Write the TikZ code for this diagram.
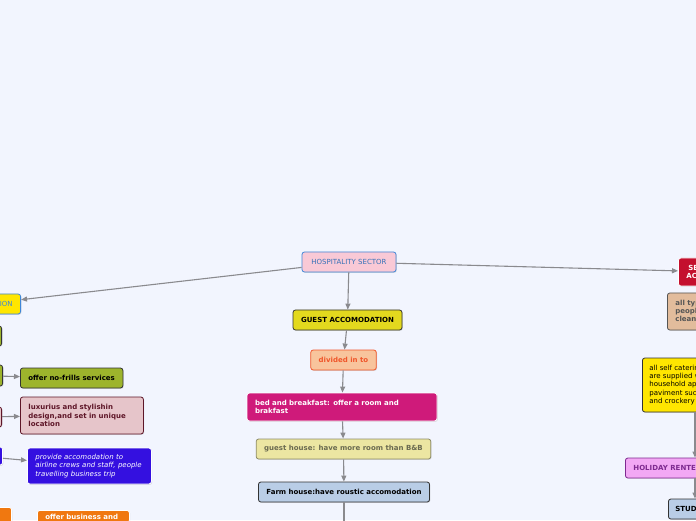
\documentclass[tikz,border=0pt]{standalone}
\usepackage{fontspec}
\setmainfont{DejaVu Sans}
\usepackage{xcolor}
\usetikzlibrary{arrows.meta,calc,shadows}
\definecolor{MapBg}{HTML}{F2F5FE}
\definecolor{LinkGray}{HTML}{8A8A8E}
\definecolor{EdgeDark}{HTML}{333333}
\definecolor{HospPink}{HTML}{F9C9D6}
\definecolor{HospBlue}{HTML}{3F86D8}
\definecolor{GuestYellow}{HTML}{E3D91E}
\definecolor{DivPeach}{HTML}{F8C49C}
\definecolor{DivRed}{HTML}{F0562A}
\definecolor{BnbMagenta}{HTML}{CF1A7A}
\definecolor{GhKhaki}{HTML}{ECE6A2}
\definecolor{GhLine}{HTML}{8E8C68}
\definecolor{GhText}{HTML}{6A6A50}
\definecolor{FarmBlue}{HTML}{B9CDE6}
\definecolor{AccomYellow}{HTML}{FFE600}
\definecolor{OliveGreen}{HTML}{9DB42C}
\definecolor{LuxRose}{HTML}{E6C5CA}
\definecolor{LuxMaroon}{HTML}{5E1628}
\definecolor{CrewViolet}{HTML}{3410E0}
\definecolor{BizOrange}{HTML}{F07810}
\definecolor{SelfRed}{HTML}{C4102E}
\definecolor{TanFill}{HTML}{E2BC9C}
\definecolor{TanText}{HTML}{555555}
\definecolor{HolidayPink}{HTML}{F2A8F4}
\definecolor{HolidayPurple}{HTML}{7E2A90}
\newcommand{\mapfont}{\fontsize{7}{8.3}\selectfont}
\tikzset{
  topic/.style={rounded corners=2.5pt,line width=0.8pt,inner xsep=8pt,inner ysep=3pt,minimum height=20pt,font=\mapfont\bfseries,
    drop shadow={shadow xshift=0.8pt,shadow yshift=-0.8pt,opacity=0.25}},
  link/.style={draw=LinkGray,line width=1.1pt,-{Triangle[length=6pt,width=5pt]}},
}

\begin{document}
\begin{tikzpicture}[x=1pt,y=1pt]
  \fill[MapBg] (0,0) rectangle (696,520);
  \useasboundingbox (0,0) rectangle (696,520);
  \clip (0,0) rectangle (696,520);
  % centre column
  \node[topic,draw=HospBlue,fill=HospPink,text=HospBlue!85!black,minimum width=94pt,font=\mapfont] (hosp) at (349,258) {HOSPITALITY SECTOR};
  \node[topic,draw=EdgeDark,fill=GuestYellow,minimum width=109pt] (guest) at (347.5,200) {GUEST ACCOMODATION};
  \node[topic,draw=DivRed,fill=DivPeach,text=DivRed,minimum width=65pt] (divided) at (343.5,160) {divided in to};
  \node[topic,draw=white,fill=BnbMagenta,text=white,text width=174pt,align=left,minimum height=28pt] (bnb) at (342,113) {bed and breakfast: offer a room and\\brakfast};
  \node[topic,draw=GhLine,fill=GhKhaki,text=GhText,minimum width=173pt] (ghouse) at (343.5,71) {guest house: have more room than B\&B};
  \node[topic,draw=EdgeDark,fill=FarmBlue,minimum width=170pt] (farm) at (344,28) {Farm house:have roustic accomodation};
  \coordinate (farmnext) at (344,-20);
  % left branch
  \node[topic,anchor=east,draw=HospBlue,fill=AccomYellow,text=HospBlue,font=\mapfont] (accom) at (21,216) {ACCOMODATION};
  \node[topic,anchor=east,draw=EdgeDark,fill=OliveGreen,minimum width=50pt] (oliveA) at (2,184) {};
  \node[topic,anchor=east,draw=EdgeDark,fill=OliveGreen,minimum width=50pt,minimum height=21pt] (oliveB) at (3,144.5) {};
  \node[topic,anchor=west,draw=EdgeDark,fill=OliveGreen,minimum width=102pt] (nofrills) at (20,142) {offer no-frills services};
  \node[topic,anchor=east,draw=LuxMaroon,fill=LuxRose,minimum width=50pt] (pinkL) at (2,103) {};
  \node[topic,anchor=west,draw=LuxMaroon,fill=LuxRose,text=LuxMaroon,text width=107pt,align=left,minimum height=37pt] (luxury) at (20,104.5) {luxurius and stylishin\\design,and set in unique\\location};
  \node[topic,anchor=east,draw=white,fill=CrewViolet,minimum width=50pt,minimum height=18pt] (blueL) at (3,64) {};
  \node[topic,anchor=west,draw=white,fill=CrewViolet,text=white,font=\mapfont\itshape,text width=108pt,align=left,minimum height=36pt] (provide) at (27,54) {provide accomodation to\\airline crews and staff, people\\travelling business trip};
  \node[topic,anchor=north east,draw=white,fill=BizOrange,minimum width=40pt] (orangeL) at (12,13) {};
  \node[topic,anchor=north west,draw=white,fill=BizOrange,text=white,text width=76pt,align=left,minimum height=0pt,inner ysep=3.5pt] (offerbiz) at (37,10) {offer business and};
  % right branch
  \node[topic,anchor=west,draw=white,fill=SelfRed,text=white,align=center,minimum height=28pt] (selfcat) at (678,248) {SELF CATERING\\ACCOMODATION};
  \node[topic,anchor=west,draw=TanText,fill=TanFill,text=TanText,align=left,minimum height=37pt] (tan) at (667,208.5) {all types of\\people who do\\cleaning};
  \node[topic,anchor=west,draw=EdgeDark,fill=AccomYellow,font=\mapfont,align=left,inner xsep=7pt,minimum height=54pt] (supplied) at (642,135) {all self catering units\\are supplied with\\household appliances\\paviment such as cutlery\\and crockery};
  \node[topic,anchor=west,draw=HolidayPurple,fill=HolidayPink,text=HolidayPurple] (holiday) at (625,52) {HOLIDAY RENTED ACCOMODATION};
  \node[topic,anchor=west,draw=EdgeDark,fill=FarmBlue,inner xsep=7pt] (stud) at (668,11) {STUDENT ACCOMODATION};
  \coordinate (rtrunk) at (695,0);
  % links
  \draw[link] (hosp) -- (guest);
  \draw[link] (guest) -- (divided);
  \draw[link] (divided) -- (bnb);
  \draw[link] (bnb) -- (ghouse);
  \draw[link] (ghouse) -- (farm);
  \draw[draw=LinkGray,line width=1.1pt] (farm) -- (farmnext);
  \draw[link] (hosp) -- (accom);
  \draw[link] (oliveB) -- (nofrills);
  \draw[link] (pinkL) -- (luxury);
  \draw[link] (blueL) -- (provide);
  \draw[link] (hosp) -- (selfcat);
  \draw[link] (supplied.south -| rtrunk) -- (holiday.north -| rtrunk);
  \draw[link] (holiday.south -| rtrunk) -- (stud.north -| rtrunk);
\end{tikzpicture}
\end{document}
